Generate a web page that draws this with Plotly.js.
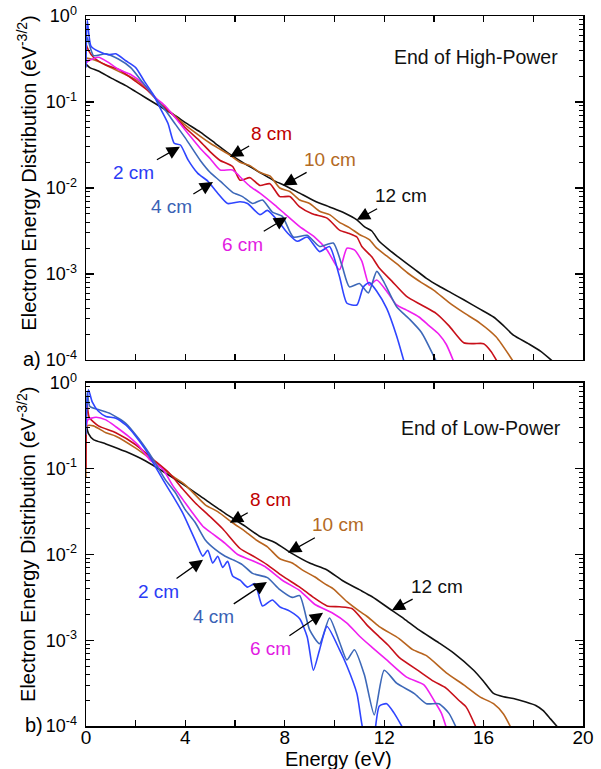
<!DOCTYPE html>
<html>
<head>
<meta charset="utf-8">
<script src="https://cdn.plot.ly/plotly-3.0.1.min.js"></script>
<style>
  html, body { margin: 0; padding: 0; background: #fff; }
  #chart { width: 601px; height: 769px; }
</style>
</head>
<body>
<div id="chart"></div>
<script>
// Electron energy distribution functions at several axial positions.
// Energies in eV; distribution values stored as log10 of the EEDF (eV^-3/2).

// ---- End of High-Power (panel a) ----
const energyHP12 = [0,0.15,0.5,1.0,1.6,2.0,2.4,2.8,3.2,3.6,4.0,4.6,5.2,5.8,6.4,7.0,7.6,8.0,8.6,9.2,9.8,10.4,10.9,11.2,11.5,11.8,12.2,12.6,13.2,13.7,14.2,14.7,15.2,15.8,16.4,16.8,17.2,17.8,18.3,18.8];
const logHP12    = [-0.56,-0.60,-0.64,-0.72,-0.81,-0.88,-0.95,-1.02,-1.09,-1.16,-1.24,-1.35,-1.48,-1.61,-1.72,-1.82,-1.92,-1.97,-2.06,-2.15,-2.22,-2.29,-2.37,-2.45,-2.50,-2.62,-2.72,-2.81,-2.94,-3.05,-3.14,-3.22,-3.30,-3.40,-3.50,-3.60,-3.71,-3.81,-3.90,-4.02];

const energyHP10 = [0,0.2,0.5,1.0,1.5,2.0,2.5,3.0,3.5,4.0,4.6,5.0,5.4,5.8,6.2,6.6,7.0,7.4,7.8,8.2,8.6,9.0,9.4,9.8,10.2,10.6,11.0,11.4,11.7,12.1,12.5,13.0,13.5,14.0,14.6,15.2,15.85,16.5,17.2];
const logHP10    = [-0.49,-0.50,-0.53,-0.60,-0.67,-0.74,-0.86,-1.02,-1.14,-1.27,-1.40,-1.48,-1.55,-1.62,-1.70,-1.74,-1.82,-1.86,-2.00,-2.04,-2.14,-2.18,-2.27,-2.31,-2.40,-2.46,-2.54,-2.60,-2.70,-2.79,-2.88,-3.00,-3.10,-3.19,-3.33,-3.45,-3.57,-3.73,-4.02];

const energyHP8 = [0,0.1,0.3,0.8,1.3,2.0,2.5,3.0,3.5,4.0,4.6,5.0,5.4,5.9,6.2,6.6,7.0,7.4,7.8,8.2,8.6,9.1,9.7,10.2,10.6,10.9,11.1,11.5,11.8,12.3,12.9,13.5,14.1,14.6,15.2,15.6,16.0,16.3,16.55];
const logHP8    = [-0.33,-0.40,-0.48,-0.57,-0.62,-0.76,-0.87,-1.02,-1.15,-1.30,-1.46,-1.58,-1.68,-1.75,-1.91,-1.88,-1.97,-1.95,-2.10,-2.10,-2.22,-2.30,-2.35,-2.49,-2.53,-2.57,-2.68,-2.80,-2.93,-3.08,-3.26,-3.36,-3.46,-3.60,-3.80,-3.81,-3.81,-3.90,-4.02];

const energyHP6 = [0,0.1,0.5,0.9,1.3,1.8,2.3,2.8,3.2,3.7,4.2,4.6,5.0,5.4,5.9,6.3,6.6,7.0,7.6,8.0,8.6,9.2,9.7,10.2,10.5,10.8,11.1,11.4,11.7,12.1,12.5,12.9,13.4,13.8,14.2,14.5,14.8];
const logHP6    = [-0.55,-0.52,-0.48,-0.54,-0.62,-0.68,-0.79,-0.95,-1.05,-1.22,-1.40,-1.54,-1.66,-1.79,-1.79,-1.90,-1.98,-2.06,-2.20,-2.30,-2.45,-2.57,-2.72,-2.95,-2.70,-2.72,-2.85,-3.13,-3.07,-3.20,-3.36,-3.42,-3.50,-3.60,-3.70,-3.82,-4.02];

const energyHP4 = [0,0.05,0.3,0.8,1.3,1.8,2.3,2.8,3.2,3.6,4.0,4.6,5.0,5.4,5.9,6.3,6.7,7.1,7.5,7.9,8.34,8.9,9.4,9.95,10.3,10.6,11.0,11.36,11.7,12.0,12.5,13.0,13.5,14.1];
const logHP4    = [-0.35,-0.25,-0.46,-0.44,-0.50,-0.60,-0.78,-0.96,-1.10,-1.26,-1.42,-1.68,-1.82,-1.92,-2.05,-2.10,-2.18,-2.14,-2.28,-2.33,-2.57,-2.55,-2.68,-2.64,-2.90,-3.15,-3.11,-3.22,-2.97,-3.10,-3.38,-3.52,-3.68,-4.02];

const energyHP2 = [0,0.05,0.2,0.5,0.9,1.2,1.6,2.0,2.35,2.7,3.0,3.3,3.55,3.8,4.1,4.5,4.9,5.3,5.7,6.2,6.5,7.0,7.3,7.8,8.1,8.5,8.9,9.4,9.8,10.2,10.5,10.9,11.16,11.4,11.7,12.1,12.5,12.8];
const logHP2    = [-0.6,-0.05,-0.35,-0.41,-0.45,-0.44,-0.52,-0.60,-0.76,-0.91,-1.08,-1.25,-1.48,-1.50,-1.67,-1.83,-1.92,-2.06,-2.18,-2.16,-2.18,-2.31,-2.26,-2.41,-2.52,-2.62,-2.57,-2.74,-2.68,-3.03,-3.34,-3.36,-3.15,-3.10,-3.20,-3.40,-3.72,-4.02];

// ---- End of Low-Power (panel b) ----
const energyLP12 = [0,0.1,0.3,0.8,1.6,2.4,3.2,4.0,4.8,5.6,6.4,7.0,7.6,8.3,9.0,9.7,10.3,11.0,11.5,12.2,12.8,13.4,14.2,14.8,15.6,16.0,16.4,16.8,17.2,17.7,18.1,18.4,18.7,19.0];
const logLP12    = [-0.47,-0.59,-0.66,-0.71,-0.80,-0.91,-1.05,-1.20,-1.36,-1.52,-1.67,-1.79,-1.86,-1.99,-2.10,-2.18,-2.30,-2.41,-2.49,-2.63,-2.75,-2.88,-3.03,-3.15,-3.35,-3.48,-3.62,-3.66,-3.68,-3.72,-3.76,-3.82,-3.92,-4.02];

const energyLP10 = [0,0.04,0.3,0.8,1.2,2.0,2.8,3.5,4.0,4.8,5.3,5.9,6.4,6.9,7.3,7.8,8.3,8.7,9.2,9.6,9.95,10.5,11.0,11.3,11.8,12.6,13.15,13.7,14.5,15.2,15.85,16.4,16.8,17.1];
const logLP10    = [-1.10,-0.50,-0.50,-0.58,-0.62,-0.76,-0.93,-1.09,-1.19,-1.42,-1.50,-1.63,-1.73,-1.84,-1.91,-2.05,-2.10,-2.18,-2.26,-2.34,-2.40,-2.55,-2.66,-2.72,-2.84,-2.98,-3.11,-3.18,-3.38,-3.52,-3.66,-3.74,-3.86,-4.02];

const energyLP8 = [0,0.04,0.13,0.5,1.2,2.0,2.7,3.35,3.9,4.4,5.0,5.5,6.2,6.8,7.3,7.9,8.6,9.15,9.7,10.2,10.7,11.3,11.8,12.2,12.6,13.4,14.0,14.5,15.0,15.3,15.7];
const logLP8    = [-1.0,-0.24,-0.40,-0.50,-0.58,-0.72,-0.89,-1.05,-1.24,-1.40,-1.56,-1.70,-1.93,-2.03,-2.12,-2.25,-2.38,-2.50,-2.60,-2.61,-2.63,-2.82,-2.96,-3.07,-3.20,-3.36,-3.48,-3.56,-3.70,-3.78,-4.02];

const energyLP6 = [0,0.07,0.4,0.8,1.2,1.7,2.15,2.55,3.1,3.5,3.9,4.3,4.7,5.1,5.6,6.1,6.6,7.2,7.9,8.6,9.2,9.9,10.5,11.0,11.5,12.1,12.9,13.6,14.0,14.3,14.5];
const logLP6    = [-0.6,-0.43,-0.40,-0.43,-0.51,-0.62,-0.74,-0.89,-1.01,-1.20,-1.36,-1.52,-1.67,-1.76,-1.87,-2.00,-2.06,-2.14,-2.30,-2.42,-2.58,-2.68,-2.80,-2.95,-3.08,-3.23,-3.43,-3.52,-3.70,-3.85,-4.02];

const energyLP4 = [0,0.05,0.15,0.5,1.0,1.6,2.15,2.7,3.2,3.6,4.0,4.4,4.8,5.2,5.6,5.9,6.3,6.7,7.3,7.8,8.3,8.6,9.0,9.4,9.8,10.2,10.5,10.8,11.2,11.6,12.0,12.5,13.2,13.7,14.2,14.6,14.9];
const logLP4    = [-0.6,-0.10,-0.27,-0.31,-0.36,-0.47,-0.66,-0.89,-1.13,-1.28,-1.48,-1.63,-1.83,-1.94,-2.02,-2.06,-2.12,-2.22,-2.27,-2.41,-2.50,-2.48,-2.88,-3.04,-2.74,-3.02,-3.23,-3.11,-3.40,-3.87,-3.35,-3.50,-3.62,-3.74,-3.74,-3.85,-4.02];

const energyLP2 = [0,0.1,0.25,0.5,0.8,1.2,1.6,2.0,2.4,2.7,3.1,3.5,3.9,4.2,4.45,4.7,4.9,5.1,5.3,5.5,5.7,5.9,6.2,6.5,6.8,7.1,7.5,7.8,8.2,8.6,8.9,9.15,9.4,9.7,10.2,10.5,10.9,11.15,11.5,11.8,12.1,12.4,12.8];
const logLP2    = [-0.5,-0.08,-0.22,-0.33,-0.39,-0.41,-0.49,-0.62,-0.78,-0.93,-1.13,-1.32,-1.52,-1.71,-1.87,-2.02,-1.95,-2.10,-2.02,-2.15,-2.08,-2.25,-2.30,-2.38,-2.34,-2.60,-2.53,-2.61,-2.66,-2.75,-2.96,-3.35,-3.11,-2.84,-3.11,-3.30,-3.62,-4.05,-4.3,-3.77,-3.74,-3.85,-4.05];

// Axis ticks
const energyTicks    = [0,2,4,6,8,10,12,14,16,18,20];
const energyTickText = ['0','','4','','8','','12','','16','','20'];
const decadeTicks    = [1e-4,1e-3,1e-2,1e-1,1];
const decadeText     = ['10<sup>-4</sup>','10<sup>-3</sup>','10<sup>-2</sup>','10<sup>-1</sup>','10<sup>0</sup>'];

const positions = ['12 cm','10 cm','8 cm','6 cm','4 cm','2 cm'];
const lineColors = ['#111111','#b8641e','#c8101a','#ef1fef','#3d68b8','#2f45ff'];
const textColors = ['#111111','#b36a24','#c00000','#e21be2','#3a62b5','#2b3cf5'];

const minorTicks = [];
for (let k = -4; k < 0; k++) for (let m = 2; m <= 9; m++) minorTicks.push(m * Math.pow(10, k));

const FONT = 'Arial, "Liberation Sans", sans-serif';
const toEEDF = arr => arr.map(v => Math.pow(10, v));

const hpSets = [[energyHP12, logHP12],[energyHP10, logHP10],[energyHP8, logHP8],[energyHP6, logHP6],[energyHP4, logHP4],[energyHP2, logHP2]];
const lpSets = [[energyLP12, logLP12],[energyLP10, logLP10],[energyLP8, logLP8],[energyLP6, logLP6],[energyLP4, logLP4],[energyLP2, logLP2]];

function curve(s, i, xa, ya) {
  return {
    x: s[0], y: toEEDF(s[1]), xaxis: xa, yaxis: ya, type: 'scatter', mode: 'lines',
    name: positions[i], line: {color: lineColors[i], width: 1.6, shape: 'spline', smoothing: 0.6},
    showlegend: false, hoverinfo: 'skip'
  };
}
const traces = [];
hpSets.forEach((s, i) => traces.push(curve(s, i, 'x', 'y')));
lpSets.forEach((s, i) => traces.push(curve(s, i, 'x2', 'y2')));

const xBase = {
  range: [0, 20], tickmode: 'array', tickvals: energyTicks, ticktext: energyTickText,
  ticks: 'inside', ticklen: 6, tickwidth: 1.3, tickcolor: '#000',
  showline: true, linecolor: '#000', linewidth: 1.5, mirror: 'ticks',
  showgrid: false, zeroline: false,
  tickfont: {family: FONT, size: 19, color: '#000'}
};
const yBase = {
  type: 'log', range: [-4, 0], tickmode: 'array', tickvals: decadeTicks, ticktext: decadeText,
  ticks: 'inside', ticklen: 8, tickwidth: 1.3, tickcolor: '#000',
  minor: {tickmode: 'array', tickvals: minorTicks, ticks: 'inside', ticklen: 4, tickwidth: 1, tickcolor: '#000', showgrid: false},
  showline: true, linecolor: '#000', linewidth: 1.5, mirror: 'ticks',
  showgrid: false, zeroline: false, ticklabelstandoff: 4,
  tickfont: {family: FONT, size: 18, color: '#000'}
};

// Arrow labels: [text, colour index, tip energy, tip log10 value, text offset x, text offset y]
const hpLabels = [
  ['8 cm', 2, 5.79, -1.64, 42, -24],
  ['2 cm', 5, 3.78, -1.52, -46, 26],
  ['10 cm', 1, 7.93, -1.97, 47, -26],
  ['12 cm', 0, 10.9, -2.37, 44, -24],
  ['4 cm', 4, 5.11, -1.93, -41, 25],
  ['6 cm', 3, 8.09, -2.34, -45, 27]
];
const lpLabels = [
  ['8 cm', 2, 5.79, -1.63, 41, -23],
  ['10 cm', 1, 8.13, -1.98, 50, -28],
  ['12 cm', 0, 12.31, -2.65, 45, -24],
  ['2 cm', 5, 4.71, -2.06, -45, 32],
  ['4 cm', 4, 7.28, -2.32, -53, 35],
  ['6 cm', 3, 9.54, -2.68, -53, 36]
];

const annotations = [];
function addLabels(list, xr, yr) {
  list.forEach(l => annotations.push({
    text: l[0], x: l[2], y: l[3], xref: xr, yref: yr, ax: l[4], ay: l[5],
    showarrow: true, arrowhead: 2, arrowsize: 2, arrowwidth: 1.3, arrowcolor: '#000',
    startstandoff: 2, standoff: 0,
    font: {family: FONT, size: 19, color: textColors[l[1]]}
  }));
}
addLabels(hpLabels, 'x', 'y');
addLabels(lpLabels, 'x2', 'y2');

annotations.push(
  {text: 'End of High-Power', xref: 'x domain', yref: 'y domain', x: 0.954, y: 0.881,
   xanchor: 'right', yanchor: 'middle', showarrow: false, font: {family: FONT, size: 19.5, color: '#111'}},
  {text: 'End of Low-Power', xref: 'x2 domain', yref: 'y2 domain', x: 0.96, y: 0.87,
   xanchor: 'right', yanchor: 'middle', showarrow: false, font: {family: FONT, size: 19.5, color: '#111'}},
  {text: 'Electron Energy Distribution (eV<sup>-3/2</sup>)', xref: 'paper', yref: 'paper',
   x: -0.1187, y: 0.778, textangle: -90, xanchor: 'center', yanchor: 'middle', showarrow: false,
   font: {family: FONT, size: 20, color: '#000'}},
  {text: 'Electron Energy Distribution (eV<sup>-3/2</sup>)', xref: 'paper', yref: 'paper',
   x: -0.1187, y: 0.255, textangle: -90, xanchor: 'center', yanchor: 'middle', showarrow: false,
   font: {family: FONT, size: 20, color: '#000'}},
  {text: 'a)', xref: 'paper', yref: 'paper', x: -0.1087, y: 0.517, xanchor: 'center', yanchor: 'middle',
   showarrow: false, font: {family: FONT, size: 20, color: '#000'}},
  {text: 'b)', xref: 'paper', yref: 'paper', x: -0.1046, y: 0.0014, xanchor: 'center', yanchor: 'middle',
   showarrow: false, font: {family: FONT, size: 20, color: '#000'}},
  {text: 'Energy (eV)', xref: 'paper', yref: 'paper', x: 0.508, y: -0.046, xanchor: 'center', yanchor: 'middle',
   showarrow: false, font: {family: FONT, size: 20, color: '#000'}}
);

const layout = {
  width: 601, height: 769,
  margin: {l: 86, r: 18, t: 16, b: 43},
  paper_bgcolor: '#fff', plot_bgcolor: '#fff',
  showlegend: false,
  xaxis: Object.assign({}, xBase, {anchor: 'y', showticklabels: false}),
  xaxis2: Object.assign({}, xBase, {anchor: 'y2', ticklabelstandoff: -6}),
  yaxis: Object.assign({}, yBase, {anchor: 'x', domain: [0.5155, 1]}),
  yaxis2: Object.assign({}, yBase, {anchor: 'x2', domain: [0, 0.4831]}),
  annotations: annotations
};

Plotly.newPlot('chart', traces, layout, {staticPlot: true, displayModeBar: false});
</script>
</body>
</html>
